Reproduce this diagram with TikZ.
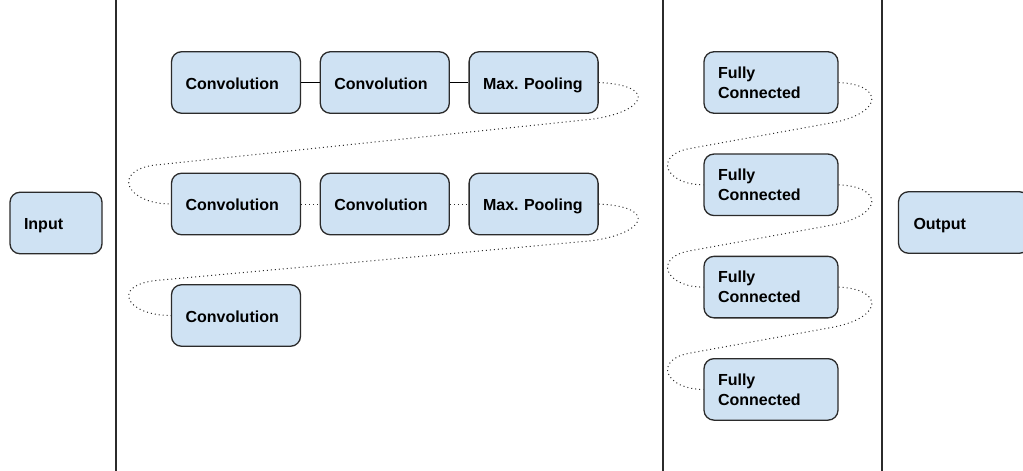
\documentclass[tikz,border=0pt]{standalone}
\usepackage{fontspec}
\setmainfont{Liberation Sans}
\usepackage{tikz}
\usetikzlibrary{positioning,calc}
\definecolor{boxfill}{HTML}{CFE2F3}
\definecolor{boxline}{HTML}{2B2B2B}

\begin{document}
\begin{tikzpicture}[x=1pt, y=1pt, node distance=18.5pt,
  layer/.style={draw=boxline, fill=boxfill, line width=1.3pt, rounded corners=10pt, minimum height=61.5pt, inner xsep=14pt, align=left, font=\fontsize{16}{20}\selectfont\bfseries},
  oneline/.style={layer, text height=13.5pt, text depth=0.5pt},
  conv/.style={oneline, text width=101pt},
  fc/.style={layer, text width=106pt},
  sep/.style={draw=boxline, line width=1.2pt},
  solidlink/.style={draw=black, line width=1.2pt},
  dotlink/.style={draw=boxline, line width=1pt, dash pattern=on 1pt off 3pt}]
  \useasboundingbox (0,0) rectangle (1023,-471);
  \clip (0,0) rectangle (1023,-471);
  \foreach \x in {116,663,882}
    \draw[sep] (\x,0) -- (\x,-471);

  \node[oneline, text width=64pt] (input) at (56,-223) {Input};

  % feature extraction
  \node[conv] (c1) at (236,-82.5) {Convolution};
  \node[conv, right=of c1] (c2) {Convolution};
  \node[conv, right=of c2] (mp1) {Max.\ Pooling};
  \node[conv] (c3) at (236,-204) {Convolution};
  \node[conv, right=of c3] (c4) {Convolution};
  \node[conv, right=of c4] (mp2) {Max.\ Pooling};
  \node[conv] (c5) at (236,-315.5) {Convolution};

  \draw[solidlink] (c1) -- (c2);
  \draw[solidlink] (c2) -- (mp1);
  \draw[dotlink] (c3) -- (c4);
  \draw[dotlink] (c4) -- (mp2);
  \draw[dotlink] (mp1.east) .. controls +(62,-3) and +(55,6) .. ($(mp1.east)+(-10,-37)$) -- ($(c3.west)+(-15,39)$) .. controls +(-45,-5) and +(-45,0) .. (c3.west);
  \draw[dotlink] (mp2.east) .. controls +(62,-3) and +(55,6) .. ($(mp2.east)+(-10,-37)$) -- ($(c5.west)+(-15,35)$) .. controls +(-45,-5) and +(-45,0) .. (c5.west);

  % classification
  \node[fc] (fc1) at (771,-82.5) {Fully\\Connected};
  \node[fc, below=39.5pt of fc1] (fc2) {Fully\\Connected};
  \node[fc, below=39.5pt of fc2] (fc3) {Fully\\Connected};
  \node[fc, below=39.5pt of fc3] (fc4) {Fully\\Connected};
  \foreach \a/\b in {fc1/fc2, fc2/fc3, fc3/fc4}
    \draw[dotlink] (\a.east) .. controls +(45,-2) and +(50,10) .. ($(\a.east)+(-5,-40)$) -- ($(\b.west)+(-15,36)$) .. controls +(-35,-7) and +(-38,0) .. (\b.west);

  \node[oneline, text width=101pt, inner xsep=15pt] (output) at (964,-222.5) {Output};
\end{tikzpicture}
\end{document}
